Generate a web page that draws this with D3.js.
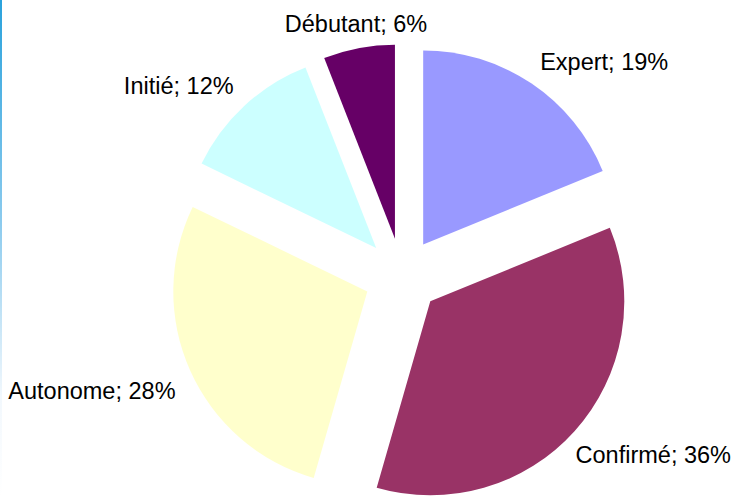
<!DOCTYPE html>
<html>
<head>
<meta charset="utf-8">
<script src="https://cdn.jsdelivr.net/npm/d3@7"></script>
<style>
	body { margin: 0; background: #fff; }
	svg { display: block; }
	text { font-family: Arial, "Liberation Sans", sans-serif; fill: #000; }
</style>
</head>
<body>
<div id="chart"></div>
<script>
(function (){
	"use strict";

// data
var levels = ["Expert", "Confirmé", "Autonome", "Initié", "Débutant"];
var shares = [19, 36, 28, 12, 6];
var colours = ["#9999ff", "#993366", "#ffffcc", "#ccffff", "#660066"];

var width = 735,
	height = 496,
	cx = 402,
	cy = 276,
	radius = 194,
	explode = 38,
	labelR = 248,
	fontSize = 23.5;

var svg = d3.select("#chart").append("svg")
	.attr("width", width)
	.attr("height", height);

// thin blue fading rule on the left edge
var grad = svg.append("defs").append("linearGradient")
	.attr("id", "edge")
	.attr("x1", 0).attr("y1", 0)
	.attr("x2", 0).attr("y2", 1);
grad.append("stop").attr("offset", "0").attr("stop-color", "#2aa2dc");
grad.append("stop").attr("offset", "0.45").attr("stop-color", "#8ccbee");
grad.append("stop").attr("offset", "0.8").attr("stop-color", "#f2f8fd");
grad.append("stop").attr("offset", "1").attr("stop-color", "#ffffff");
svg.append("rect")
	.attr("x", 0).attr("y", 0)
	.attr("width", 2).attr("height", height)
	.style("fill", "url(#edge)");

var pie = d3.pie().sort(null);
var arc = d3.arc().innerRadius(0).outerRadius(radius);

var slices = pie(shares).map(function(d, i){
	d.name = levels[i];
	d.colour = colours[i];
	d.mid = (d.startAngle + d.endAngle) / 2;
	return d;
});

var g = svg.append("g")
	.attr("transform", "translate(" + cx + "," + cy + ")");

g.selectAll("path").data(slices)
	.enter().append("path")
		.attr("d", arc)
		.style("fill", function(d){ return d.colour; })
		.attr("transform", function(d){
			return "translate(" + (Math.sin(d.mid) * explode) + "," + (-Math.cos(d.mid) * explode) + ")";
		});

// labels: box corner pinned on the bisector, then kept inside the chart
g.selectAll("text").data(slices)
	.enter().append("text")
		.style("font-size", fontSize + "px")
		.text(function(d){ return d.name + "; " + d.value + "%"; })
		.attr("text-anchor", "start")
		.each(function(d){
			var w = this.getComputedTextLength(),
				s = Math.sin(d.mid),
				c = Math.cos(d.mid),
				px = s * labelR,
				py = -c * labelR,
				left = s > 0.3 ? px : (s < -0.3 ? px - w : px - w / 2),
				base = c > 0.3 ? py : (c < -0.3 ? py + fontSize * 0.93 : py + fontSize * 0.35);
			left = Math.min(left, width - cx - w - 4);
			left = Math.max(left, 4 - cx);
			d3.select(this).attr("x", left).attr("y", base);
		});

})();
</script>
</body>
</html>
